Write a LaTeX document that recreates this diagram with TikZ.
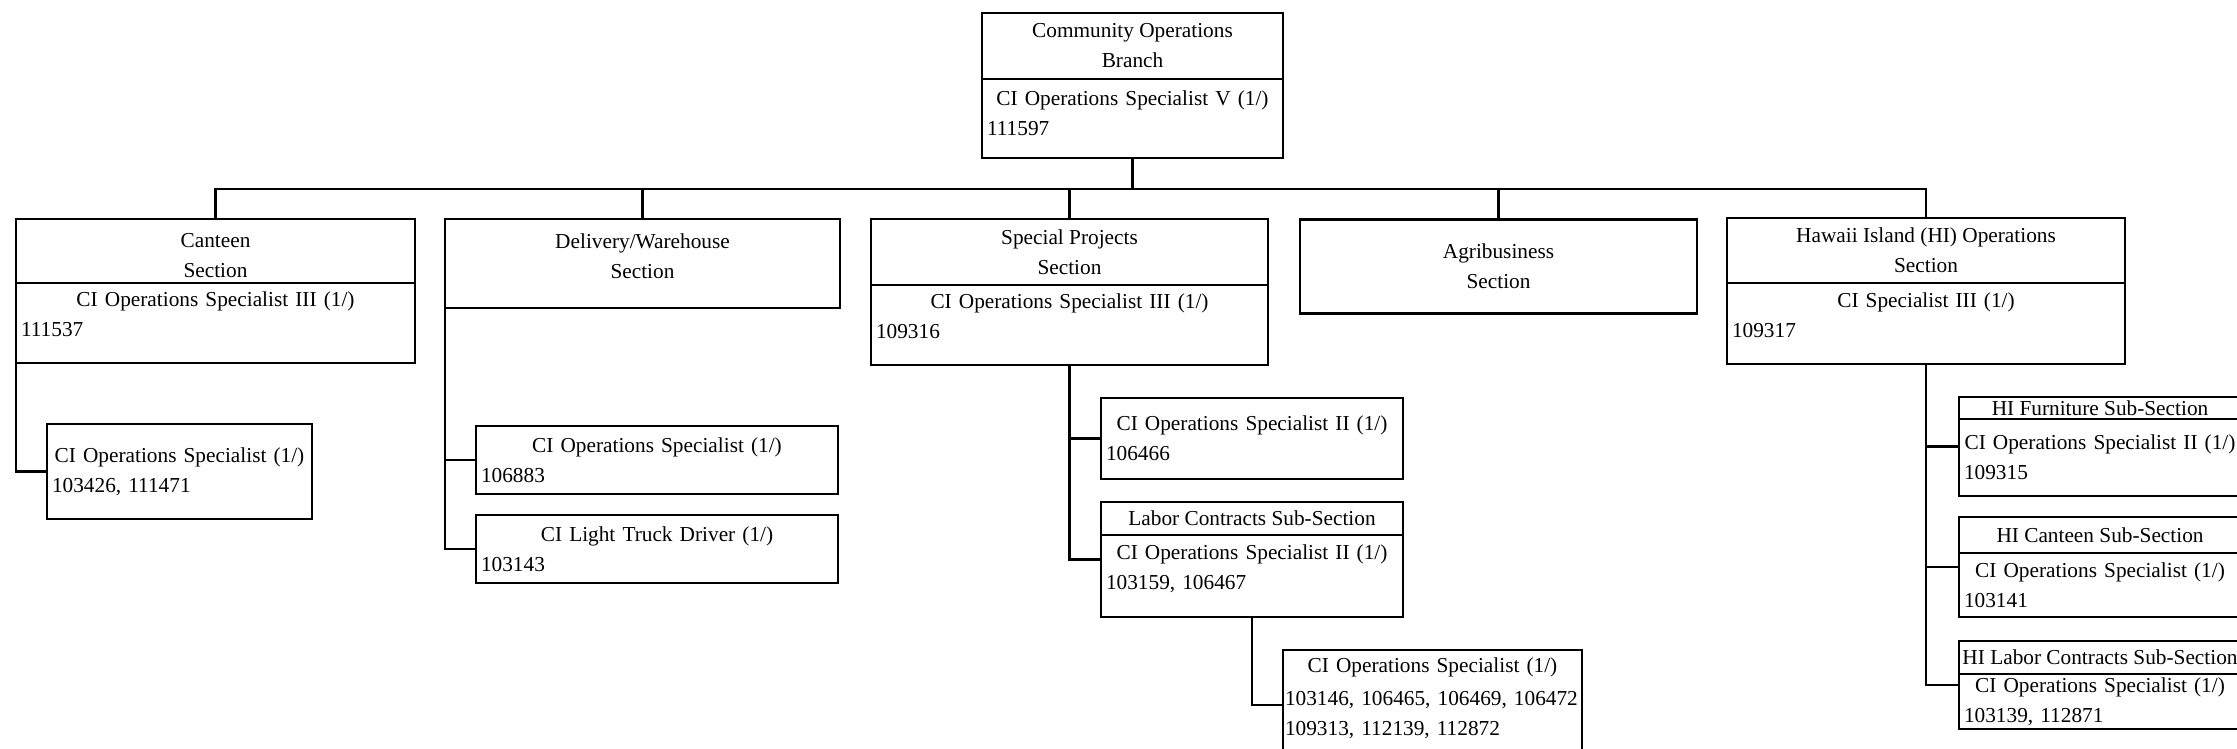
\documentclass[tikz,border=0pt]{standalone}
\usepackage{fontspec}
\setmainfont{Liberation Serif}
\usetikzlibrary{positioning, calc}
\frenchspacing
\newcommand\orgfont{\fontsize{21.3}{30}\selectfont}
\tikzset{
  headbox/.style={
    draw, line width=2.6pt, rectangle, inner sep=0pt, outer sep=0pt,
    align=center, font=\orgfont, fill=white
  },
  bodybox/.style={
    draw, line width=2.6pt, rectangle, inner xsep=5pt, inner ysep=0pt,
    outer sep=0pt, align=left, font=\orgfont, fill=white
  },
  orgline/.style={line width=2.6pt, line cap=rect},
}

\begin{document}
\begin{tikzpicture}[x=1pt, y=-1pt]
  \fill[white] (0,0) rectangle (2237,748);
  \useasboundingbox (0,0) rectangle (2237,748);
  \clip (0,0) rectangle (2237,748);

  % Branch
  \node[headbox, minimum width=301pt, minimum height=66pt] (branch) at (1132.5,46)
    {Community Operations\\Branch};
  \node[bodybox, text width=291pt, minimum height=79pt, below=0pt of branch] (branchbody)
    {{\centering CI Operations Specialist V (1/)\par}111597\\[-20pt]\mbox{}};

  % Sections
  \node[headbox, minimum width=399pt, minimum height=64pt, text height=53pt] (canteen)
    at (215.5,251) {Canteen\\Section};
  \node[bodybox, text width=389pt, minimum height=80pt, below=0pt of canteen] (canteenbody)
    {{\centering CI Operations Specialist III (1/)\par}111537\\[-13pt]\mbox{}};
  \node[headbox, minimum width=395pt, minimum height=89pt, text depth=14pt] (delivery)
    at (642.5,263.5) {Delivery/Warehouse\\Section};
  \node[headbox, minimum width=397pt, minimum height=66pt] (special) at (1069.5,252)
    {Special Projects\\Section};
  \node[bodybox, text width=387pt, minimum height=80pt, below=0pt of special] (specialbody)
    {{\centering CI Operations Specialist III (1/)\par}109316\\[-13pt]\mbox{}};
  \node[headbox, minimum width=397pt, minimum height=94pt] (agri) at (1498.5,266.5)
    {Agribusiness\\Section};
  \node[headbox, minimum width=398pt, minimum height=65pt] (hiops) at (1926,250.5)
    {Hawaii Island (HI) Operations\\Section};
  \node[bodybox, text width=388pt, minimum height=81pt, below=0pt of hiops] (hiopsbody)
    {{\centering CI Specialist III (1/)\par}109317\\[-13pt]\mbox{}};

  % Canteen staff
  \node[bodybox, text width=255pt, minimum height=95pt] (canteenstaff) at (179.5,471.5)
    {{\centering CI Operations Specialist (1/)\par}103426, 111471};

  % Delivery/Warehouse staff
  \node[bodybox, text width=352pt, minimum height=68pt] (deliverystaff) at (657,460)
    {{\centering CI Operations Specialist (1/)\par}106883};
  \node[bodybox, text width=352pt, minimum height=68pt] (deliverytruck) at (657,549)
    {{\centering CI Light Truck Driver (1/)\par}103143};

  % Special Projects staff
  \node[bodybox, text width=292pt, minimum height=81pt] (specialstaff) at (1252,438.5)
    {{\centering CI Operations Specialist II (1/)\par}106466};
  \node[headbox, minimum width=302pt, minimum height=33pt] (labor) at (1252,518.5)
    {Labor Contracts Sub-Section};
  \node[bodybox, text width=292pt, minimum height=82pt, below=0pt of labor] (laborbody)
    {{\centering CI Operations Specialist II (1/)\par}103159, 106467\\[-13pt]\mbox{}};
  \node[bodybox, inner xsep=2pt, text width=295pt, minimum height=110pt] (laborstaff)
    at (1432.5,705)
    {{\centering CI Operations Specialist (1/)\par}\vspace{3pt}103146, 106465, 106469, 106472\\
     109313, 112139, 112872\\[-14pt]\mbox{}};

  % HI sub-sections
  \node[headbox, minimum width=282pt, minimum height=22pt] (hifurn) at (2100,408)
    {HI Furniture Sub-Section};
  \node[bodybox, text width=272pt, minimum height=77pt, below=0pt of hifurn] (hifurnbody)
    {{\centering CI Operations Specialist II (1/)\par}109315};
  \node[headbox, minimum width=282pt, minimum height=36pt] (hicanteen) at (2100,535)
    {HI Canteen Sub-Section};
  \node[bodybox, text width=272pt, minimum height=64pt, below=0pt of hicanteen] (hicanteenbody)
    {{\centering CI Operations Specialist (1/)\par}103141};
  \node[headbox, minimum width=282pt, minimum height=33pt] (hilabor) at (2100,657.5)
    {HI Labor Contracts Sub-Section};
  \node[bodybox, text width=272pt, minimum height=55pt, below=0pt of hilabor] (hilaborbody)
    {{\centering CI Operations Specialist (1/)\par}103139, 112871};

  % Connectors
  \coordinate (bus) at (0,189);
  \draw[orgline] (branchbody.south) -- (branchbody.south |- bus);
  \draw[orgline] (canteen.north |- bus) -- (hiops.north |- bus);
  \foreach \sect in {canteen, delivery, special, agri, hiops}
    \draw[orgline] (\sect.north) -- (\sect.north |- bus);

  \draw[orgline] (canteenbody.south west) |- (canteenstaff.west);
  \draw[orgline] (delivery.south west) |- (deliverytruck.west);
  \draw[orgline] (deliverystaff.west) -- (deliverystaff.west -| delivery.west);

  \coordinate (labormid) at ($(labor.north west)!0.5!(laborbody.south west)$);
  \draw[orgline] (specialbody.south) |- (labormid);
  \draw[orgline] (specialstaff.west) -- (specialstaff.west -| specialbody.south);
  \draw[orgline] (laborbody.south) |- (laborstaff.west);

  \coordinate (hifurnmid) at ($(hifurn.north west)!0.5!(hifurnbody.south west)$);
  \coordinate (hicanteenmid) at ($(hicanteen.north west)!0.5!(hicanteenbody.south west)$);
  \coordinate (hilabormid) at ($(hilabor.north west)!0.5!(hilaborbody.south west)$);
  \draw[orgline] (hiopsbody.south) |- (hilabormid);
  \draw[orgline] (hifurnmid) -- (hifurnmid -| hiopsbody.south);
  \draw[orgline] (hicanteenmid) -- (hicanteenmid -| hiopsbody.south);
\end{tikzpicture}
\end{document}
